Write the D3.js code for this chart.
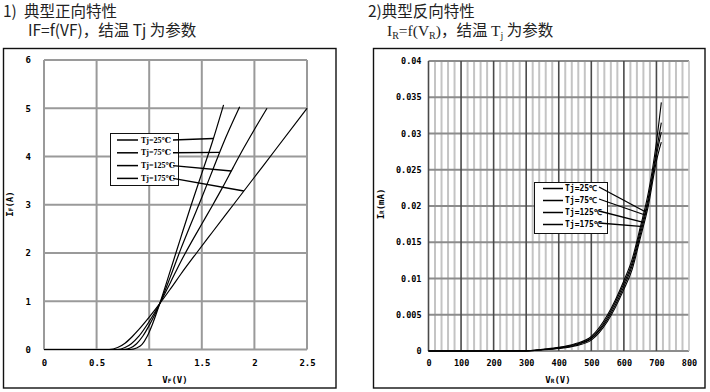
<!DOCTYPE html>
<html>
<head>
<meta charset="utf-8">
<script src="https://cdn.jsdelivr.net/npm/d3@7"></script>
<style>
body { margin: 0; background: #fff; }
.tick text { font-family: "DejaVu Sans Mono", monospace; font-weight: bold; fill: #000; }
</style>
</head>
<body>
<svg id="chart" width="710" height="392"></svg>
<script>
// ---- 1) forward characteristic, IF vs VF per junction temperature ----
var tjLabels = ["Tj=25℃", "Tj=75℃", "Tj=125℃", "Tj=175℃"];

var vfTj25  = [0, 0.82, 0.88, 0.93, 0.98, 1.03, 1.1, 1.2, 1.3, 1.4, 1.5, 1.6, 1.707];
var ifTj25  = [0, 0,    0.03, 0.1,  0.27, 0.52, 0.95, 1.63, 2.32, 3.0, 3.65, 4.3, 5.07];
var vfTj75  = [0, 0.76, 0.82, 0.88, 0.94, 1.0, 1.05, 1.1, 1.2, 1.3, 1.4, 1.5, 1.6, 1.7, 1.86];
var ifTj75  = [0, 0,    0.03, 0.12, 0.28, 0.5, 0.71, 0.95, 1.5, 2.08, 2.62, 3.15, 3.7, 4.25, 5.03];
var vfTj125 = [0, 0.7, 0.77, 0.83, 0.9,  1.0,  1.1,  1.2,  1.3,  1.4,  1.5, 1.6,  1.7,  1.8,  1.9,  2.0,  2.12];
var ifTj125 = [0, 0,   0.04, 0.12, 0.27, 0.58, 0.95, 1.38, 1.82, 2.22, 2.6, 2.98, 3.37, 3.78, 4.18, 4.56, 5.0];
var vfTj175 = [0, 0.62, 0.7,  0.77, 0.84, 0.9,  1.0,  1.1,  1.2,  1.3,  1.45, 1.6,  1.8, 2.0,  2.2,  2.5];
var ifTj175 = [0, 0,    0.04, 0.13, 0.27, 0.41, 0.67, 0.95, 1.25, 1.56, 2.0,  2.43, 3.0, 3.57, 4.14, 5.0];

var vfTicks = [0, 0.5, 1, 1.5, 2, 2.5];
var ifTicks = [0, 1, 2, 3, 4, 5, 6];
var vfLeader = [1.61, 1.67, 1.78, 1.90];   // where each legend pointer hits its curve

// ---- 2) reverse characteristic, IR (mA) vs VR ----
var vrGrid  = [0, 100, 200, 300, 350, 400, 450, 500, 550, 600, 625, 650, 675, 700, 715];
var irTj25  = [0, 0, 0, 0.00001, 0.00015, 0.00035, 0.0007, 0.0015, 0.0041, 0.0085, 0.0112, 0.0155, 0.0200, 0.0262, 0.0288];
var irTj75  = [0, 0, 0, 0.00002, 0.0002,  0.0004,  0.0008, 0.0017, 0.0044, 0.0089, 0.0117, 0.0160, 0.0206, 0.0270, 0.0302];
var irTj125 = [0, 0, 0, 0.00002, 0.0002,  0.00045, 0.0009, 0.0018, 0.0047, 0.0093, 0.0121, 0.0165, 0.0211, 0.0276, 0.0315];
var irTj175 = [0, 0, 0, 0.00003, 0.00025, 0.0005,  0.0010, 0.0020, 0.0050, 0.0097, 0.0126, 0.0170, 0.0218, 0.0288, 0.0343];

var vrTicks = [0, 100, 200, 300, 400, 500, 600, 700, 800];
var irTicks = [0, 0.005, 0.01, 0.015, 0.02, 0.025, 0.03, 0.035, 0.04];
var vrLeader = [670, 665, 657, 651];

var svg = d3.select("#chart");
var cjk = '"Noto Sans CJK SC", "Noto Sans", sans-serif';
var serif = '"Liberation Serif", "DejaVu Serif", serif';
var mono = '"DejaVu Sans Mono", monospace';

//linear lookup of y on a polyline, used for the legend pointers
function interp(xs, ys, v) {
	var i = d3.bisectLeft(xs, v);
	if (i <= 0) return ys[0];
	if (i >= xs.length) return ys[ys.length - 1];
	var t = (v - xs[i - 1]) / (xs[i] - xs[i - 1]);
	return ys[i - 1] + t * (ys[i] - ys[i - 1]);
}

/////////////////////////////////////////////////////////
////////////////////// Titles ///////////////////////////
/////////////////////////////////////////////////////////

var t1 = svg.append("text").attr("y", 17)
	.style("font-family", cjk).style("font-size", "15.5px").attr("fill", "#222");
t1.append("tspan").attr("x", 3).text("1)");
t1.append("tspan").attr("x", 24).text("典型正向特性");
svg.append("text").attr("x", 28).attr("y", 35.5)
	.style("font-family", cjk).style("font-size", "15.5px").attr("fill", "#222")
	.text("IF=f(VF)，结温 Tj 为参数");

svg.append("text").attr("x", 368).attr("y", 17)
	.style("font-family", cjk).style("font-size", "15.5px").attr("fill", "#222")
	.text("2)典型反向特性");
var t2 = svg.append("text").attr("x", 387).attr("y", 35.5)
	.style("font-size", "15.5px").attr("fill", "#222");
[["I", serif, 0], ["R", serif, 1], ["=f(V", serif, 0], ["R", serif, 1], [")", serif, 0],
 ["，结温 ", cjk, 0], ["T", serif, 0], ["j", serif, 1], [" 为参数", cjk, 0]].forEach(function(p) {
	var ts = t2.append("tspan").style("font-family", p[1]).text(p[0]);
	if (p[2]) ts.style("font-size", "10px").attr("baseline-shift", "-3");
});

/////////////////////////////////////////////////////////
//////////////// Left panel: forward ////////////////////
/////////////////////////////////////////////////////////

svg.append("rect").attr("x", 3.5).attr("y", 48.5).attr("width", 332.5).attr("height", 339.5)
	.attr("fill", "none").attr("stroke", "#111").attr("stroke-width", 1.4);

var xF = d3.scaleLinear().domain([0, 2.5]).range([44, 307]);
var yF = d3.scaleLinear().domain([0, 6]).range([349.5, 60]);

var gF = svg.append("g");
gF.selectAll(".vgrid").data(vfTicks).join("line")
	.attr("x1", function(d) { return xF(d); }).attr("x2", function(d) { return xF(d); })
	.attr("y1", yF(0)).attr("y2", yF(6))
	.attr("stroke", "#9a9a9a").attr("stroke-width", 2);
gF.selectAll(".hgrid").data(ifTicks).join("line")
	.attr("y1", function(d) { return yF(d); }).attr("y2", function(d) { return yF(d); })
	.attr("x1", xF(0)).attr("x2", xF(2.5))
	.attr("stroke", "#9a9a9a").attr("stroke-width", 2);

gF.append("g").attr("transform", "translate(0," + yF(0) + ")")
	.call(d3.axisBottom(xF).tickValues(vfTicks).tickSize(0).tickPadding(10).tickFormat(d3.format("")))
	.call(function(g) { g.select(".domain").remove(); })
	.selectAll("text").style("font-size", "9px");
gF.append("g").attr("transform", "translate(" + xF(0) + ",0)")
	.call(d3.axisLeft(yF).tickValues(ifTicks).tickSize(0).tickPadding(13).tickFormat(d3.format("d")))
	.call(function(g) { g.select(".domain").remove(); })
	.selectAll("text").style("font-size", "9px");

var xt = svg.append("text").attr("x", 175).attr("y", 383).attr("text-anchor", "middle")
	.style("font-family", mono).style("font-weight", "bold").style("font-size", "9px");
xt.append("tspan").text("V");
xt.append("tspan").text("F").style("font-size", "6px");
xt.append("tspan").text("(V)");
var yt = svg.append("text").attr("transform", "translate(13,204) rotate(-90)").attr("text-anchor", "middle")
	.style("font-family", mono).style("font-weight", "bold").style("font-size", "9px");
yt.append("tspan").text("I");
yt.append("tspan").text("F").style("font-size", "6px");
yt.append("tspan").text("(A)");

var fwd = [[vfTj25, ifTj25], [vfTj75, ifTj75], [vfTj125, ifTj125], [vfTj175, ifTj175]];
var lineF = d3.line()
	.x(function(d) { return xF(d[0]); })
	.y(function(d) { return yF(d[1]); })
	.curve(d3.curveMonotoneX);
gF.selectAll(".curve").data(fwd).join("path")
	.attr("d", function(s) { return lineF(d3.zip(s[0], s[1])); })
	.attr("fill", "none").attr("stroke", "#000").attr("stroke-width", 1.2);

//legend with pointer lines
gF.append("rect").attr("x", 110.5).attr("y", 133.5).attr("width", 68).attr("height", 52)
	.attr("fill", "#fff").attr("stroke", "#111").attr("stroke-width", 1);
var legF = gF.selectAll(".leg").data(tjLabels).join("g")
	.attr("transform", function(d, i) { return "translate(0," + (140 + i * 12.8) + ")"; });
legF.append("line").attr("x1", 117).attr("x2", 138).attr("stroke", "#000").attr("stroke-width", 1.5);
legF.append("text").attr("x", 141).attr("dy", "0.33em")
	.style("font-family", serif).style("font-weight", "bold").style("font-size", "8px")
	.text(function(d) { return d; });
gF.selectAll(".ptr").data(tjLabels).join("line")
	.attr("x1", 173).attr("y1", function(d, i) { return 140 + i * 12.8; })
	.attr("x2", function(d, i) { return xF(vfLeader[i]); })
	.attr("y2", function(d, i) { return yF(interp(fwd[i][0], fwd[i][1], vfLeader[i])); })
	.attr("stroke", "#000").attr("stroke-width", 1.4);

/////////////////////////////////////////////////////////
//////////////// Right panel: reverse ///////////////////
/////////////////////////////////////////////////////////

svg.append("rect").attr("x", 373.5).attr("y", 48.5).attr("width", 331.5).attr("height", 339.5)
	.attr("fill", "none").attr("stroke", "#111").attr("stroke-width", 1.4);

var xR = d3.scaleLinear().domain([0, 800]).range([428.5, 689]);
var yR = d3.scaleLinear().domain([0, 0.04]).range([351, 61]);

var gR = svg.append("g");
var minor = d3.range(0, 801, 20).filter(function(v) { return v % 100 !== 0; });
gR.selectAll(".minor").data(minor).join("line")
	.attr("x1", function(d) { return xR(d); }).attr("x2", function(d) { return xR(d); })
	.attr("y1", yR(0)).attr("y2", yR(0.04))
	.attr("stroke", "#c4c4c4").attr("stroke-width", 2);
gR.selectAll(".hgrid").data(irTicks).join("line")
	.attr("y1", function(d) { return yR(d); }).attr("y2", function(d) { return yR(d); })
	.attr("x1", xR(0)).attr("x2", xR(800))
	.attr("stroke", "#8c8c8c").attr("stroke-width", 2);
gR.selectAll(".major").data(vrTicks).join("line")
	.attr("x1", function(d) { return xR(d); }).attr("x2", function(d) { return xR(d); })
	.attr("y1", yR(0)).attr("y2", yR(0.04))
	.attr("stroke", function(d) { return d === 800 ? "#c4c4c4" : "#4a4a4a"; }).attr("stroke-width", 1.6);

gR.append("g").attr("transform", "translate(0," + yR(0) + ")")
	.call(d3.axisBottom(xR).tickValues(vrTicks).tickSize(0).tickPadding(9).tickFormat(d3.format("d")))
	.call(function(g) { g.select(".domain").remove(); })
	.selectAll("text").style("font-size", "8.5px");
gR.append("g").attr("transform", "translate(" + xR(0) + ",0)")
	.call(d3.axisLeft(yR).tickValues(irTicks).tickSize(0).tickPadding(7).tickFormat(d3.format("")))
	.call(function(g) { g.select(".domain").remove(); })
	.selectAll("text").style("font-size", "8.5px");

var xt2 = svg.append("text").attr("x", 558).attr("y", 383).attr("text-anchor", "middle")
	.style("font-family", mono).style("font-weight", "bold").style("font-size", "9px");
xt2.append("tspan").text("V");
xt2.append("tspan").text("R").style("font-size", "6px");
xt2.append("tspan").text("(V)");
var yt2 = svg.append("text").attr("transform", "translate(384,204) rotate(-90)").attr("text-anchor", "middle")
	.style("font-family", mono).style("font-weight", "bold").style("font-size", "9px");
yt2.append("tspan").text("I");
yt2.append("tspan").text("R").style("font-size", "6px");
yt2.append("tspan").text("(mA)");

var rev = [irTj25, irTj75, irTj125, irTj175];
var lineR = d3.line()
	.x(function(d) { return xR(d[0]); })
	.y(function(d) { return yR(d[1]); })
	.curve(d3.curveMonotoneX);
gR.selectAll(".curve").data(rev).join("path")
	.attr("d", function(s) { return lineR(d3.zip(vrGrid, s)); })
	.attr("fill", "none").attr("stroke", "#000").attr("stroke-width", 1.1);

gR.append("rect").attr("x", 534.5).attr("y", 182.5).attr("width", 73).attr("height", 51)
	.attr("fill", "#fff").attr("stroke", "#111").attr("stroke-width", 1);
var legR = gR.selectAll(".leg").data(tjLabels).join("g")
	.attr("transform", function(d, i) { return "translate(0," + (188.5 + i * 12) + ")"; });
legR.append("line").attr("x1", 543).attr("x2", 563).attr("stroke", "#000").attr("stroke-width", 1.5);
legR.append("text").attr("x", 565).attr("dy", "0.33em")
	.style("font-family", mono).style("font-weight", "bold").style("font-size", "8px")
	.text(function(d) { return d; });
gR.selectAll(".ptr").data(tjLabels).join("line")
	.attr("x1", 599).attr("y1", function(d, i) { return 187 + i * 12; })
	.attr("x2", function(d, i) { return xR(vrLeader[i]); })
	.attr("y2", function(d, i) { return yR(interp(vrGrid, rev[i], vrLeader[i])); })
	.attr("stroke", "#000").attr("stroke-width", 1.3);
</script>
</body>
</html>
